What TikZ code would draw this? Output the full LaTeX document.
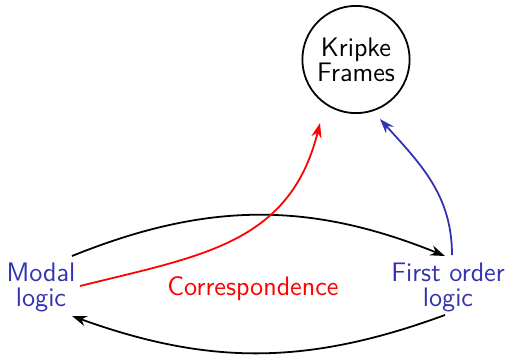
\documentclass[tikz,border=0pt]{standalone}
\usepackage{tikz}
\usetikzlibrary{arrows.meta}

\begin{document}
\begin{tikzpicture}[x=0.01576cm,y=0.01576cm,
    txt/.style={font=\sffamily\fontsize{12}{11.2}\selectfont,align=center,inner sep=0pt},
    logicnode/.style={txt,text=logicblue},
    framenode/.style={txt,circle,draw,thick,minimum size=1.69cm},
    link/.style={thick,->},
    >={Stealth[length=6.6pt,width=4.6pt]}]

  \definecolor{logicblue}{rgb}{0.2,0.2,0.7}
  \useasboundingbox (0,0) rectangle (509,354);

  % --- nodes ---
  \node[framenode] (kripke) at (356,294.5) {Kripke\\Frames};
  \node[logicnode] (modal) at (41,67) {Modal\\logic};
  \node[logicnode] (fol) at (448,67) {First order\\logic};
  \node[txt,text=red] (corr) at (253,65) {Correspondence};

  % --- end points of the connectors ---
  \coordinate (mtop) at (72,98);
  \coordinate (ftop) at (445,98);
  \coordinate (fbot) at (445,39);
  \coordinate (mbot) at (72,38);
  \coordinate (mred) at (80,68);
  \coordinate (kred) at (320,231);
  \coordinate (fblue) at (452,99);
  \coordinate (kblue) at (380,235);

  % --- translations between the logics ---
  \draw[link] (mtop) to[bend left=22] (ftop);
  \draw[link] (fbot) to[bend left=20] (mbot);

  % --- semantics ---
  \draw[link,red] (mred) to[out=14,in=-104,looseness=1.1] (kred);
  \draw[link,logicblue] (fblue) to[out=90,in=-48] (kblue);

\end{tikzpicture}
\end{document}
